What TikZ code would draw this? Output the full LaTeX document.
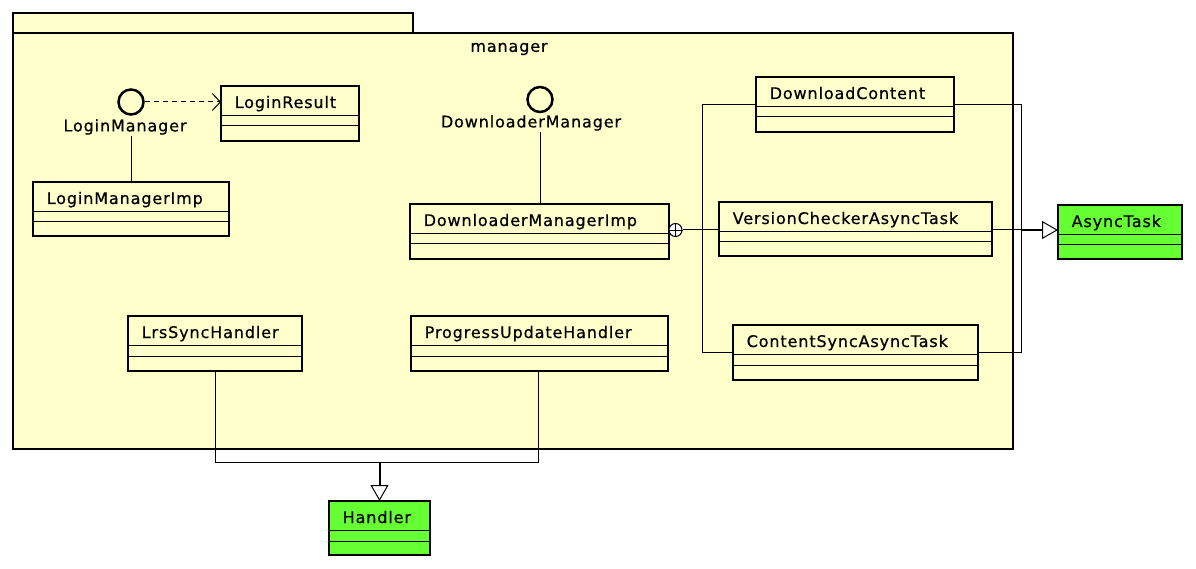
\documentclass[tikz,border=0pt]{standalone}
\usepackage{fontspec}
\setmainfont{DejaVu Sans}[LetterSpace=5.5, FakeBold=0.6]
\usetikzlibrary{arrows.meta}
\definecolor{pkgfill}{HTML}{FFFFCC}
\definecolor{clsfill}{HTML}{FFFFCC}
\definecolor{extfill}{HTML}{66FF33}
\tikzset{
  clsbox/.style={draw=black, line width=2.9pt, anchor=north west, inner sep=0pt, outer sep=0pt},
  clstitle/.style={anchor=base west, inner sep=0pt, font=\fontsize{16}{19}\selectfont},
  sepline/.style={line width=1pt},
  conn/.style={line width=1pt},
  pkgline/.style={draw=black, line width=2.9pt, fill=pkgfill},
  iface/.style={circle, draw=black, line width=2.5pt, minimum size=25pt, inner sep=0pt, fill=clsfill},
  ilabel/.style={inner sep=0pt, font=\fontsize{16}{19}\selectfont},
  gen/.style={conn, -{Triangle[open, length=16pt, width=18pt, line width=1pt, fill=white]}},
  dep/.style={conn, dashed, dash pattern=on 5pt off 4pt, -{Straight Barb[length=8pt, width=17pt, line width=1pt]}}
}
\newcommand{\ucls}[7]{%
  \node[clsbox, fill=#7, minimum width=#4pt, minimum height=#5pt] (#1) at (#2,#3) {};
  \node[clstitle] (#1t) at ([xshift=13.5pt, yshift=-22pt]#1.north west) {#6};
  \draw[sepline] ([yshift=-29.5pt]#1.north west) -- ([yshift=-29.5pt]#1.north east);
  \draw[sepline] ([yshift=-40pt]#1.north west) -- ([yshift=-40pt]#1.north east);
}
\begin{document}
\begin{tikzpicture}[x=1pt, y=-1pt]
\useasboundingbox (0,0) rectangle (1196,569);
% package
\draw[pkgline] (13,13) rectangle (413,33);
\draw[pkgline] (13,33) rectangle (1013,449);
\node[ilabel] (pkglbl) at (509,49) {manager};
% classes
\ucls{lr}{221}{86}{138}{55}{LoginResult}{clsfill}
\ucls{lmi}{33}{182}{196}{54}{LoginManagerImp}{clsfill}
\ucls{dmi}{410}{204}{259}{55}{DownloaderManagerImp}{clsfill}
\ucls{dc}{756}{77}{198}{55}{DownloadContent}{clsfill}
\ucls{vcat}{719}{202}{273}{54}{VersionCheckerAsyncTask}{clsfill}
\ucls{csat}{733}{325}{245}{55}{ContentSyncAsyncTask}{clsfill}
\ucls{lsh}{128}{316}{174}{55}{LrsSyncHandler}{clsfill}
\ucls{puh}{411}{316}{257}{55}{ProgressUpdateHandler}{clsfill}
\ucls{at}{1058}{205}{124}{54}{AsyncTask}{extfill}
\ucls{h}{329}{501}{101}{54}{Handler}{extfill}
% interfaces
\node[iface] (lm) at (131,102) {};
\node[ilabel] (lml) at (125,127) {LoginManager};
\node[iface] (dm) at (540,99.5) {};
\node[ilabel] (dml) at (531,123) {DownloaderManager};
% connectors
\draw[dep] (lm.east) -- (lr.west |- lm.east);
\draw[conn] (lm |- lml.south) ++(0,1) -- (lm |- lmi.north);
\draw[conn] (dm |- dml.south) ++(0,1) -- (dm |- dmi.north);
% nesting
\node[circle, draw=black, line width=1pt, minimum size=13pt, inner sep=0pt, fill=white] (nest) at (675.5,230) {};
\draw[line width=0.8pt] (nest.north) -- (nest.south) (nest.west) -- (nest.east);
\coordinate (nx) at (702,230);
\draw[conn] (nest.east) -- (vcat.west |- nest.east);
\draw[conn] (dc.west) -- (nx |- dc.west) -- (nx |- csat.west) -- (csat.west);
% generalization to AsyncTask
\coordinate (gx) at (1021.5,230);
\draw[conn] (dc.east) -- (gx |- dc.east) -- (gx);
\draw[conn] (csat.east) -- (gx |- csat.east) -- (gx);
\draw[conn] (vcat.east |- gx) -- (gx);
\draw[gen, line width=2pt] (gx) -- (at.west |- gx);
% generalization to Handler
\coordinate (hy) at (379.5,462);
\draw[conn] (lsh.south) -- (lsh.south |- hy) -- (hy);
\draw[conn] ([xshift=-1pt]puh.south) -- ([xshift=-1pt]puh.south |- hy) -- (hy);
\draw[gen, line width=2pt] (hy) -- (h.north);
\end{tikzpicture}
\end{document}
